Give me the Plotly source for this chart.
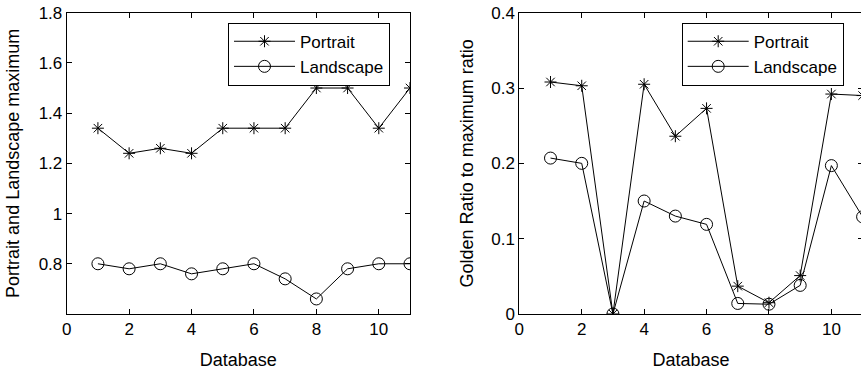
import plotly.graph_objects as go

database = [1, 2, 3, 4, 5, 6, 7, 8, 9, 10, 11]
max_portrait = [1.34, 1.24, 1.26, 1.24, 1.34, 1.34, 1.34, 1.50, 1.50, 1.34, 1.50]
max_landscape = [0.80, 0.78, 0.80, 0.76, 0.78, 0.80, 0.74, 0.66, 0.78, 0.80, 0.80]
golden_portrait = [0.308, 0.303, 0.0, 0.305, 0.236, 0.273, 0.037, 0.015, 0.051, 0.292, 0.290]
golden_landscape = [0.207, 0.200, 0.0, 0.150, 0.130, 0.119, 0.014, 0.013, 0.038, 0.197, 0.129]

x_ticks = [0, 2, 4, 6, 8, 10]
left_y_ticks = [0.8, 1.0, 1.2, 1.4, 1.6, 1.8]
left_y_text = ["0.8", "1", "1.2", "1.4", "1.6", "1.8"]
right_y_ticks = [0, 0.1, 0.2, 0.3, 0.4]
right_y_text = ["0", "0.1", "0.2", "0.3", "0.4"]

FONT = "Liberation Sans"
FS_TICK = 17
FS_TEXT = 18
FS_LEG = 17

star = dict(symbol="asterisk-open", size=10, color="black", line=dict(color="black", width=1))
circ = dict(symbol="circle-open", size=12, color="black", line=dict(color="black", width=1))
ln = dict(color="black", width=1)

fig = go.Figure()
fig.add_trace(go.Scatter(x=database, y=max_portrait, mode="lines+markers", name="Portrait",
                         line=ln, marker=star, xaxis="x", yaxis="y", legend="legend"))
fig.add_trace(go.Scatter(x=database, y=max_landscape, mode="lines+markers", name="Landscape",
                         line=ln, marker=circ, xaxis="x", yaxis="y", legend="legend"))
fig.add_trace(go.Scatter(x=database, y=golden_portrait, mode="lines+markers", name="Portrait",
                         line=ln, marker=star, xaxis="x2", yaxis="y2", legend="legend2"))
fig.add_trace(go.Scatter(x=database, y=golden_landscape, mode="lines+markers", name="Landscape",
                         line=ln, marker=circ, xaxis="x2", yaxis="y2", legend="legend2"))

# figure slightly wider than the window: the right panel's frame is cropped as in the reference
W, H = 864, 372
ydom = [1 - 314 / H, 1 - 12.7 / H]

axis_common = dict(showline=True, linecolor="black", linewidth=1, mirror="ticks",
                   ticks="inside", ticklen=5, tickcolor="black", showgrid=False,
                   zeroline=False, automargin=False,
                   tickfont=dict(family=FONT, size=FS_TICK, color="black"))
title_font = dict(family=FONT, size=FS_TEXT, color="black")

leg_common = dict(bordercolor="black", borderwidth=1, bgcolor="white",
                  font=dict(family=FONT, size=FS_LEG, color="black"), itemwidth=61,
                  tracegroupgap=0, yanchor="top", xanchor="left")

fig.update_layout(
    template="none",
    width=W, height=H,
    margin=dict(l=0, r=0, t=0, b=0, autoexpand=False),
    paper_bgcolor="white", plot_bgcolor="white",
    font=dict(family=FONT, size=FS_TEXT, color="black"),
    xaxis=dict(domain=[66.7 / W, 410 / W], range=[0, 11], tickvals=x_ticks, anchor="y",
               title=dict(text="Database", standoff=14, font=title_font), **axis_common),
    yaxis=dict(domain=ydom, range=[0.6, 1.8], tickvals=left_y_ticks, ticktext=left_y_text,
               anchor="x", title=dict(text="Portrait and Landscape maximum", standoff=14, font=title_font),
               **axis_common),
    xaxis2=dict(domain=[519.3 / W, 862.6 / W], range=[0, 11], tickvals=x_ticks, anchor="y2",
                title=dict(text="Database", standoff=14, font=title_font), **axis_common),
    yaxis2=dict(domain=ydom, range=[0, 0.4], tickvals=right_y_ticks, ticktext=right_y_text,
                anchor="x2", title=dict(text="Golden Ratio to maximum ratio", standoff=12, font=title_font),
                **axis_common),
    legend=dict(x=228 / W, y=1 - 22.7 / H, **leg_common),
    legend2=dict(x=681.7 / W, y=1 - 22.7 / H, **leg_common),
    showlegend=True,
)

fig.write_html(
    "out.html",
    config={"displayModeBar": False},
    post_script="document.body.style.margin='0';document.body.style.overflow='hidden';",
)
